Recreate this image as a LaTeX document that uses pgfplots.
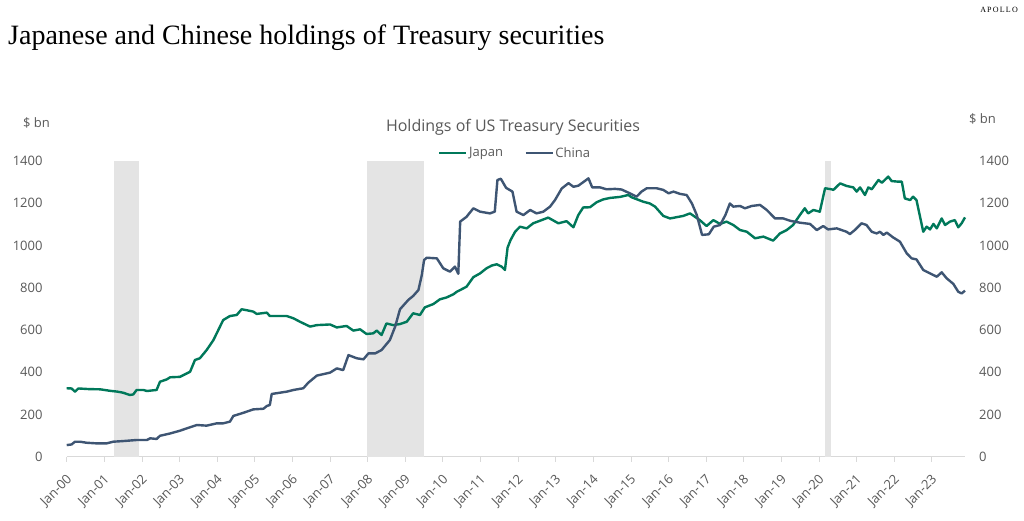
\documentclass[border=0pt]{standalone}
\usepackage{fontspec}
\setmainfont{Open Sans}
\newfontfamily\titlefont{Liberation Serif}
\usepackage{pgfplots}
\pgfplotsset{compat=1.18}
\definecolor{jpn}{HTML}{00785A}
\definecolor{chn}{HTML}{3E5573}
\definecolor{lbl}{HTML}{595959}
\definecolor{shade}{HTML}{E4E4E4}
\definecolor{axl}{HTML}{D9D9D9}
\pgfplotstableread{
x y
2000.00 324
2000.13 323
2000.22 308
2000.31 323
2000.60 320
2000.89 319
2001.15 312
2001.35 308
2001.50 303
2001.68 292
2001.77 295
2001.86 316
2002.04 316
2002.13 311
2002.39 316
2002.48 355
2002.66 366
2002.75 376
2003.01 378
2003.28 402
2003.41 458
2003.54 466
2003.72 505
2003.90 552
2004.16 647
2004.34 666
2004.52 671
2004.65 698
2004.80 693
2004.96 687
2005.05 676
2005.32 682
2005.40 666
2005.85 666
2006.03 655
2006.20 639
2006.47 616
2006.65 623
2007.00 626
2007.18 612
2007.44 619
2007.62 597
2007.80 603
2007.97 581
2008.15 584
2008.24 597
2008.37 576
2008.50 631
2008.68 623
2008.86 628
2009.04 639
2009.21 679
2009.39 671
2009.52 707
2009.75 723
2009.92 745
2010.10 754
2010.28 769
2010.37 781
2010.46 789
2010.63 805
2010.81 850
2010.99 868
2011.16 892
2011.30 905
2011.43 911
2011.56 900
2011.65 884
2011.72 990
2011.80 1026
2011.92 1065
2012.05 1089
2012.23 1081
2012.40 1105
2012.58 1117
2012.80 1132
2013.07 1105
2013.29 1115
2013.47 1086
2013.60 1144
2013.73 1180
2013.91 1181
2014.09 1205
2014.26 1218
2014.44 1225
2014.71 1230
2014.93 1239
2015.02 1228
2015.33 1207
2015.50 1199
2015.64 1184
2015.86 1140
2016.04 1128
2016.39 1140
2016.57 1152
2016.83 1120
2017.01 1092
2017.19 1120
2017.37 1102
2017.54 1113
2017.72 1097
2017.90 1073
2018.08 1065
2018.30 1034
2018.52 1042
2018.78 1023
2018.96 1057
2019.14 1073
2019.31 1097
2019.49 1144
2019.62 1176
2019.71 1152
2019.85 1168
2020.02 1160
2020.16 1271
2020.33 1266
2020.38 1263
2020.56 1294
2020.73 1282
2020.91 1275
2021.00 1255
2021.09 1275
2021.22 1239
2021.31 1275
2021.40 1266
2021.58 1310
2021.67 1297
2021.84 1326
2021.93 1305
2022.11 1302
2022.20 1302
2022.28 1223
2022.42 1215
2022.50 1231
2022.59 1215
2022.77 1065
2022.86 1089
2022.95 1076
2023.04 1102
2023.13 1081
2023.26 1128
2023.35 1097
2023.48 1113
2023.61 1120
2023.70 1086
2023.79 1105
2023.88 1133
}\japan
\pgfplotstableread{
x y
2000.00 55
2000.13 58
2000.22 71
2000.35 71
2000.53 66
2000.80 63
2001.06 63
2001.24 71
2001.50 74
2001.86 79
2002.13 79
2002.22 87
2002.39 84
2002.48 99
2002.75 110
2003.01 123
2003.19 134
2003.46 150
2003.72 147
2003.99 158
2004.16 158
2004.34 166
2004.43 193
2004.70 208
2004.96 224
2005.23 227
2005.32 240
2005.40 245
2005.45 297
2005.67 303
2005.85 308
2006.03 316
2006.29 324
2006.42 350
2006.65 384
2007.00 398
2007.18 418
2007.35 410
2007.49 481
2007.71 466
2007.89 461
2008.02 489
2008.20 489
2008.37 505
2008.59 552
2008.73 615
2008.86 698
2009.08 742
2009.21 761
2009.35 789
2009.44 860
2009.50 931
2009.57 942
2009.84 939
2010.01 892
2010.19 876
2010.32 900
2010.41 866
2010.46 1113
2010.63 1136
2010.81 1176
2010.99 1160
2011.25 1152
2011.38 1160
2011.45 1310
2011.54 1316
2011.68 1273
2011.85 1255
2011.96 1160
2012.14 1144
2012.32 1168
2012.49 1152
2012.67 1160
2012.85 1184
2012.98 1215
2013.16 1270
2013.34 1295
2013.47 1278
2013.60 1283
2013.78 1306
2013.87 1318
2013.97 1275
2014.18 1275
2014.35 1266
2014.58 1268
2014.75 1265
2014.97 1247
2015.15 1231
2015.28 1255
2015.42 1271
2015.68 1271
2015.86 1263
2016.00 1247
2016.13 1255
2016.31 1244
2016.48 1239
2016.62 1199
2016.75 1144
2016.89 1050
2017.07 1053
2017.20 1089
2017.37 1097
2017.51 1144
2017.63 1199
2017.72 1184
2017.90 1187
2018.03 1176
2018.21 1187
2018.43 1192
2018.61 1168
2018.83 1128
2019.05 1128
2019.23 1117
2019.49 1108
2019.76 1102
2019.94 1073
2020.11 1092
2020.24 1076
2020.47 1081
2020.73 1065
2020.82 1054
2020.95 1073
2021.13 1105
2021.26 1097
2021.40 1065
2021.53 1057
2021.62 1065
2021.71 1050
2021.80 1061
2021.97 1038
2022.15 1018
2022.33 963
2022.46 939
2022.59 934
2022.77 884
2022.95 868
2023.13 852
2023.26 873
2023.39 845
2023.57 818
2023.70 781
2023.79 773
2023.88 786
}\china
\begin{document}
\begin{tikzpicture}[x=1pt,y=1pt]
\path[use as bounding box, fill=white] (0,0) rectangle (1024,521);
\node[anchor=base west, inner sep=0pt, font=\titlefont\fontsize{28}{28}\selectfont] at (8,476) {Japanese and Chinese holdings of Treasury securities};
\node[anchor=base east, inner sep=0pt, font=\titlefont\fontsize{8}{8}\selectfont\addfontfeatures{LetterSpace=15}] at (1018,508) {APOLLO};
\node[inner sep=0pt, text=lbl, font=\fontsize{16}{16}\selectfont] at (513,394) {Holdings of US Treasury Securities};
\node[inner sep=0pt, text=lbl, font=\fontsize{13}{13}\selectfont] at (36.5,398) {\$ bn};
\node[inner sep=0pt, text=lbl, font=\fontsize{13}{13}\selectfont] at (982.5,402) {\$ bn};
\begin{axis}[
  at={(66.7pt,64.3pt)}, anchor=south west,
  scale only axis, width=898.3pt, height=295.7pt,
  xmin=2000, xmax=2023.88, ymin=0, ymax=1400,
  axis x line*=bottom, axis y line*=left,
  y axis line style={draw=none},
  x axis line style={axl, line width=1pt},
  xtick={2000,...,2023},
  xticklabels={Jan-00,Jan-01,Jan-02,Jan-03,Jan-04,Jan-05,Jan-06,Jan-07,Jan-08,Jan-09,Jan-10,Jan-11,Jan-12,Jan-13,Jan-14,Jan-15,Jan-16,Jan-17,Jan-18,Jan-19,Jan-20,Jan-21,Jan-22,Jan-23},
  ytick={0,200,...,1400},
  tick align=outside, major tick length=5pt,
  xtick style={axl, line width=0.8pt},
  ytick style={draw=none},
  /pgf/number format/assume math mode=true,
  /pgf/number format/set thousands separator={},
  tick label style={font=\fontsize{13}{13}\selectfont, text=lbl},
  xticklabel style={xshift=-1pt, yshift=-10pt, rotate=45, anchor=north east, inner sep=1pt},
  yticklabel style={anchor=east, inner sep=0pt, xshift=-19pt},
  legend style={at={(0.499,1.027)}, anchor=center, draw=none, fill=none, font=\fontsize{13}{13}\selectfont, text=lbl, legend columns=2, /tikz/every even column/.append style={column sep=20pt}, nodes={inner sep=1.5pt}},
  legend image code/.code={\draw[#1, line width=2.4pt] (0pt,0pt) -- (27pt,0pt);},
  clip=false,
]
\addplot[fill=shade, draw=none, forget plot] coordinates {(2001.25,1400) (2001.92,1400)} \closedcycle;
\addplot[fill=shade, draw=none, forget plot] coordinates {(2007.99,1400) (2009.49,1400)} \closedcycle;
\addplot[fill=shade, draw=none, forget plot] coordinates {(2020.17,1400) (2020.33,1400)} \closedcycle;
\addplot[jpn, line width=2.4pt, line join=round, no marks] table[x=x,y=y] {\japan};
\addlegendentry{Japan}
\addplot[chn, line width=2.4pt, line join=round, no marks] table[x=x,y=y] {\china};
\addlegendentry{China}
\end{axis}
\begin{axis}[
  at={(66.7pt,64.3pt)}, anchor=south west,
  scale only axis, width=898.3pt, height=295.7pt,
  xmin=2000, xmax=2023.88, ymin=0, ymax=1400,
  axis x line=none, axis y line*=right,
  y axis line style={draw=none},
  ytick={0,200,...,1400}, ytick style={draw=none},
  /pgf/number format/assume math mode=true,
  /pgf/number format/set thousands separator={},
  tick label style={font=\fontsize{13}{13}\selectfont, text=lbl},
  yticklabel style={anchor=west, inner sep=0pt, xshift=14pt},
]
\addplot[draw=none, forget plot] coordinates {(2000,0)};
\end{axis}
\end{tikzpicture}
\end{document}
